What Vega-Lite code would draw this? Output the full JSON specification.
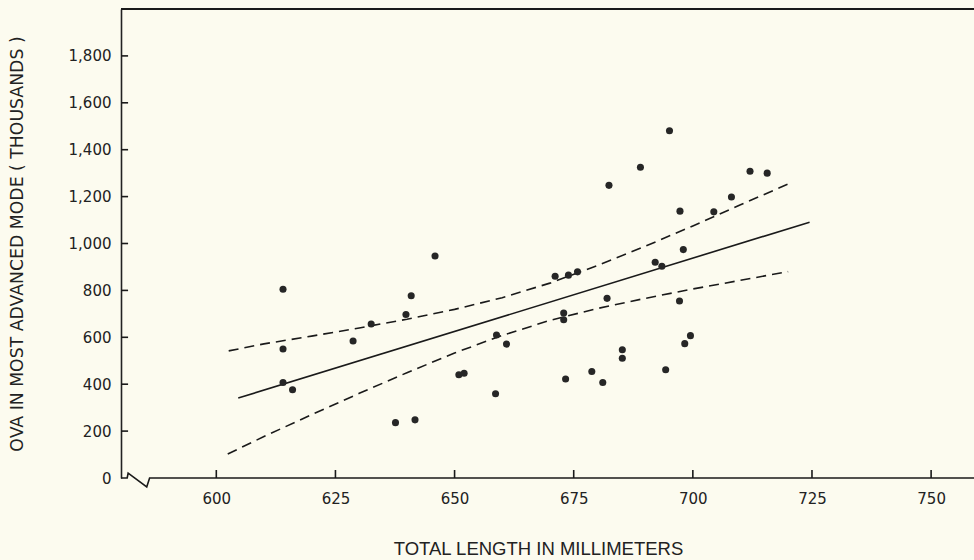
{
  "$schema": "https://vega.github.io/schema/vega-lite/v6.json",
  "width": 853,
  "height": 469,
  "autosize": {"type": "none"},
  "padding": {"left": 121, "top": 9, "right": 0, "bottom": 82},
  "background": "#fcfbef",
  "config": {
    "view": {"stroke": null},
    "axis": {"grid": false, "labelColor": "#222", "titleColor": "#222", "tickColor": "#222", "domainColor": "#222"}
  },
  "datasets": {
    "pts": [
      {"x": 614, "y": 805}, {"x": 614, "y": 550}, {"x": 614, "y": 407}, {"x": 616, "y": 376},
      {"x": 628.7, "y": 584}, {"x": 632.5, "y": 657}, {"x": 637.6, "y": 236}, {"x": 639.8, "y": 697},
      {"x": 640.9, "y": 777}, {"x": 641.7, "y": 248}, {"x": 645.9, "y": 947}, {"x": 650.9, "y": 440},
      {"x": 652, "y": 447}, {"x": 658.6, "y": 359}, {"x": 658.8, "y": 610}, {"x": 660.9, "y": 571},
      {"x": 671.1, "y": 860}, {"x": 672.9, "y": 704}, {"x": 672.9, "y": 675}, {"x": 673.3, "y": 422},
      {"x": 673.9, "y": 865}, {"x": 675.8, "y": 879}, {"x": 678.8, "y": 454}, {"x": 681.1, "y": 407},
      {"x": 682.0, "y": 766}, {"x": 682.4, "y": 1248}, {"x": 685.2, "y": 547}, {"x": 685.2, "y": 511},
      {"x": 689, "y": 1325}, {"x": 692.1, "y": 920}, {"x": 693.5, "y": 903}, {"x": 694.3, "y": 462},
      {"x": 695.1, "y": 1481}, {"x": 697.2, "y": 755}, {"x": 697.3, "y": 1138}, {"x": 698, "y": 974},
      {"x": 698.3, "y": 573}, {"x": 699.5, "y": 607}, {"x": 704.4, "y": 1135}, {"x": 708.1, "y": 1198},
      {"x": 712, "y": 1308}, {"x": 715.6, "y": 1300}
    ],
    "fit": [{"x": 604.6, "y": 341}, {"x": 724.5, "y": 1091}],
    "upper": [
      {"x": 602.6, "y": 542}, {"x": 610, "y": 572}, {"x": 620, "y": 605}, {"x": 630, "y": 640},
      {"x": 640, "y": 677}, {"x": 650, "y": 719}, {"x": 660, "y": 769}, {"x": 670, "y": 831},
      {"x": 680, "y": 906}, {"x": 690, "y": 988}, {"x": 700, "y": 1075}, {"x": 710, "y": 1165},
      {"x": 720.5, "y": 1258}
    ],
    "lower": [
      {"x": 602.4, "y": 102}, {"x": 610, "y": 177}, {"x": 620, "y": 270}, {"x": 630, "y": 361},
      {"x": 640, "y": 449}, {"x": 650, "y": 533}, {"x": 660, "y": 608}, {"x": 670, "y": 672},
      {"x": 680, "y": 723}, {"x": 690, "y": 766}, {"x": 700, "y": 806}, {"x": 710, "y": 843},
      {"x": 720, "y": 880}
    ],
    "axisline": [
      {"i": 1, "x": 580, "y": 0}, {"i": 2, "x": 581.3, "y": 0}, {"i": 3, "x": 581.5, "y": 21},
      {"i": 4, "x": 585.4, "y": -38}, {"i": 5, "x": 586, "y": 0}, {"i": 6, "x": 759, "y": 0}
    ],
    "xticks": [{"x": 600}, {"x": 625}, {"x": 650}, {"x": 675}, {"x": 700}, {"x": 725}, {"x": 750}],
    "yticks": [{"y": 200}, {"y": 400}, {"y": 600}, {"y": 800}, {"y": 1000}, {"y": 1200}, {"y": 1400}, {"y": 1600}, {"y": 1800}]
  },
  "layer": [
    {
      "data": {"name": "upper"},
      "mark": {"type": "line", "color": "#1a1a1a", "strokeWidth": 1.6, "strokeDash": [10, 6]},
      "encoding": {
        "x": {"field": "x", "type": "quantitative", "scale": {"domain": [580, 759], "nice": false, "zero": false},
          "axis": {"values": [600, 625, 650, 675, 700, 725, 750], "title": "TOTAL LENGTH IN MILLIMETERS",
            "domain": false, "ticks": false, "tickSize": 0, "labelPadding": 13,
            "labelFont": "DejaVu Sans", "labelFontSize": 15, "titleFont": "Liberation Sans", "titleFontSize": 18.5,
            "titleFontWeight": "normal", "titlePadding": 33, "titleX": 417}},
        "y": {"field": "y", "type": "quantitative", "scale": {"domain": [0, 2000], "nice": false},
          "axis": {"values": [0, 200, 400, 600, 800, 1000, 1200, 1400, 1600, 1800], "format": ",.0f",
            "title": "OVA IN MOST ADVANCED MODE ( THOUSANDS )", "domainWidth": 1.6, "ticks": false, "tickSize": 0,
            "labelPadding": 10, "labelFont": "DejaVu Sans", "labelFontSize": 15, "titleFont": "DejaVu Sans",
            "titleFontSize": 17.3, "titleFontWeight": "normal", "titlePadding": 42}}
      }
    },
    {
      "data": {"name": "lower"},
      "mark": {"type": "line", "color": "#1a1a1a", "strokeWidth": 1.6, "strokeDash": [10, 6]},
      "encoding": {"x": {"field": "x", "type": "quantitative"}, "y": {"field": "y", "type": "quantitative"}}
    },
    {
      "data": {"name": "fit"},
      "mark": {"type": "line", "color": "#1a1a1a", "strokeWidth": 1.6},
      "encoding": {"x": {"field": "x", "type": "quantitative"}, "y": {"field": "y", "type": "quantitative"}}
    },
    {
      "data": {"name": "axisline"},
      "mark": {"type": "line", "color": "#1a1a1a", "strokeWidth": 1.6, "clip": false},
      "encoding": {"x": {"field": "x", "type": "quantitative"}, "y": {"field": "y", "type": "quantitative"},
        "order": {"field": "i", "type": "quantitative"}}
    },
    {
      "data": {"name": "xticks"},
      "mark": {"type": "tick", "color": "#1a1a1a", "orient": "vertical", "size": 8, "thickness": 1.6, "opacity": 1},
      "encoding": {"x": {"field": "x", "type": "quantitative"}, "y": {"datum": 17}}
    },
    {
      "data": {"name": "yticks"},
      "mark": {"type": "tick", "color": "#1a1a1a", "orient": "horizontal", "size": 7, "thickness": 1.6, "opacity": 1},
      "encoding": {"y": {"field": "y", "type": "quantitative"}, "x": {"datum": 580.75}}
    },
    {
      "data": {"values": [{"t": 1}]},
      "mark": {"type": "rule", "color": "#1a1a1a", "strokeWidth": 1.8},
      "encoding": {"y": {"datum": 2000}}
    },
    {
      "data": {"name": "pts"},
      "mark": {"type": "circle", "color": "#262626", "opacity": 1, "size": 50},
      "encoding": {"x": {"field": "x", "type": "quantitative"}, "y": {"field": "y", "type": "quantitative"}}
    }
  ]
}
